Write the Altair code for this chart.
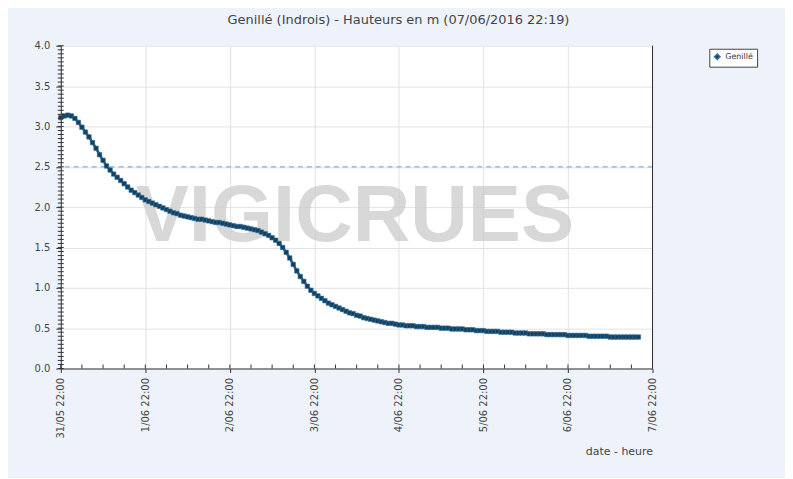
import altair as alt
import pandas as pd

# Hourly water heights (m), from 31/05/2016 22:00
heights = [
    3.11, 3.13, 3.14, 3.13, 3.10, 3.05, 2.99, 2.93, 2.87, 2.80, 2.73, 2.65,
    2.58, 2.51, 2.46, 2.41, 2.37, 2.33, 2.29, 2.25, 2.21, 2.18, 2.15, 2.12,
    2.09, 2.07, 2.05, 2.03, 2.01, 1.99, 1.97, 1.95, 1.93, 1.92, 1.90, 1.89,
    1.88, 1.87, 1.86, 1.85, 1.85, 1.84, 1.83, 1.82, 1.81, 1.81, 1.80, 1.79,
    1.78, 1.77, 1.76, 1.76, 1.75, 1.74, 1.73, 1.72, 1.71, 1.69, 1.67, 1.65,
    1.62, 1.59, 1.55, 1.50, 1.44, 1.37, 1.29, 1.21, 1.14, 1.08, 1.02, 0.97,
    0.93, 0.90, 0.87, 0.84, 0.81, 0.79, 0.77, 0.75, 0.73, 0.71, 0.69, 0.68,
    0.66, 0.65, 0.63, 0.62, 0.61, 0.60, 0.59, 0.58, 0.57, 0.56, 0.56, 0.55,
    0.54, 0.54, 0.53, 0.53, 0.53, 0.52, 0.52, 0.52, 0.51, 0.51, 0.51, 0.51,
    0.50, 0.50, 0.50, 0.49, 0.49, 0.49, 0.49, 0.48, 0.48, 0.48, 0.47, 0.47,
    0.47, 0.46, 0.46, 0.46, 0.46, 0.45, 0.45, 0.45, 0.45, 0.44, 0.44, 0.44,
    0.44, 0.43, 0.43, 0.43, 0.43, 0.43, 0.42, 0.42, 0.42, 0.42, 0.42, 0.42,
    0.41, 0.41, 0.41, 0.41, 0.41, 0.41, 0.40, 0.40, 0.40, 0.40, 0.40, 0.40,
    0.39, 0.39, 0.39, 0.39, 0.39, 0.39, 0.39, 0.39, 0.39,
]
series_name = "Genillé"
start = "2016-05-31 22:00"
end = "2016-06-07 22:00"
day_ticks = ["2016-05-31 22:00", "2016-06-01 22:00", "2016-06-02 22:00",
             "2016-06-03 22:00", "2016-06-04 22:00", "2016-06-05 22:00",
             "2016-06-06 22:00", "2016-06-07 22:00"]
y_ticks = [0.0, 0.5, 1.0, 1.5, 2.0, 2.5, 3.0, 3.5, 4.0]
alert_level = 2.5
title_text = "Genillé (Indrois) - Hauteurs en m (07/06/2016 22:19)"
x_title = "date - heure"
watermark = "VIGICRUES"


def iso(s):
    return pd.Timestamp(s).strftime("%Y-%m-%dT%H:%M:%SZ")


def dt(s):
    ts = pd.Timestamp(s)
    return alt.DateTime(year=ts.year, month=ts.month, date=ts.day,
                        hours=ts.hour, minutes=ts.minute, utc=True)


times = pd.date_range(pd.Timestamp(start), periods=len(heights), freq="h")
df = pd.DataFrame({"t": times.strftime("%Y-%m-%dT%H:%M:%SZ"),
                   "v": heights, "serie": series_name})

minor_x = pd.date_range(pd.Timestamp(start), pd.Timestamp(end), freq="6h")
minor_x_df = pd.DataFrame({"t": minor_x.strftime("%Y-%m-%dT%H:%M:%SZ")})
minor_y_df = pd.DataFrame({"v": [round(i * 0.05, 2) for i in range(81)]})

W, H = 594, 324

x_scale = alt.Scale(type="utc", domain=[dt(start), dt(end)])
y_scale = alt.Scale(domain=[0, 4], nice=False)

x_enc = alt.X("t:T", scale=x_scale, axis=alt.Axis(
    values=[dt(d) for d in day_ticks], format="%-d/%m %H:%M",
    labelAngle=270, labelFontSize=10, labelColor="#444", labelFont="DejaVu Sans",
    labelPadding=5, tickSize=4, tickColor="#333", domainColor="#333",
    gridColor="#e2e2e2", grid=True, title=x_title, titleAnchor="end",
    titleFontWeight="normal", titleFontSize=11, titleFont="DejaVu Sans",
    titleColor="#444", titlePadding=8))
y_enc = alt.Y("v:Q", scale=y_scale, axis=alt.Axis(
    values=y_ticks, format=".1f", labelFontSize=10, labelColor="#444",
    labelFont="DejaVu Sans", tickSize=5, tickColor="#333", domainColor="#333",
    gridColor="#e2e2e2", grid=True, title=None, labelPadding=6))

wm = alt.Chart(pd.DataFrame({"t": [iso("2016-06-04 09:30")], "v": [1.93],
                             "txt": [watermark]})).mark_text(
    font="Liberation Sans", fontWeight="bold", fontSize=80,
    color="#cccccc", opacity=0.75, baseline="middle", align="center",
    dy=4
).encode(x="t:T", y="v:Q", text="txt:N")

alert = alt.Chart(pd.DataFrame({"v": [alert_level]})).mark_rule(
    color="#7fb3da", strokeDash=[5, 4], strokeWidth=1.2).encode(y="v:Q")

right_border = alt.Chart(pd.DataFrame({"t": [iso(end)]})).mark_rule(
    color="#333", strokeWidth=1).encode(x="t:T")

xminor = alt.Chart(minor_x_df).mark_rule(color="#333").encode(
    x="t:T", y=alt.value(H - 4), y2=alt.value(H))
yminor = alt.Chart(minor_y_df).mark_rule(color="#333").encode(
    y="v:Q", x=alt.value(-3), x2=alt.value(3))

line = alt.Chart(df).mark_line(color="#1d4b6c", strokeWidth=2.5).encode(
    x=x_enc, y=y_enc)
pts = alt.Chart(df).mark_square(size=20, filled=True, opacity=1,
                                stroke="#2f74a3", strokeWidth=0.6).encode(
    x="t:T", y="v:Q",
    color=alt.Color("serie:N", scale=alt.Scale(range=["#173f5c"]),
                    legend=alt.Legend(
                        title=None, orient="none", legendX=651, legendY=3,
                        strokeColor="#444", fillColor="#ffffff", padding=4,
                        labelFontSize=8, labelFont="DejaVu Sans",
                        labelColor="#333", symbolType="diamond",
                        symbolSize=30)))

chart = alt.layer(wm, alert, line, pts, right_border, xminor, yminor).properties(
    width=W, height=H,
    autosize=alt.AutoSizeParams(type="none"),
    padding={"left": 53, "top": 37, "right": 133, "bottom": 109},
    background="#eef3fb",
    title=alt.TitleParams(title_text, fontSize=13, font="DejaVu Sans",
                          fontWeight="normal", color="#444", anchor="middle",
                          dx=42, offset=14),
).configure_view(fill="white", stroke=None)

chart.save("out.html", embed_options={"renderer": "svg", "actions": False})
